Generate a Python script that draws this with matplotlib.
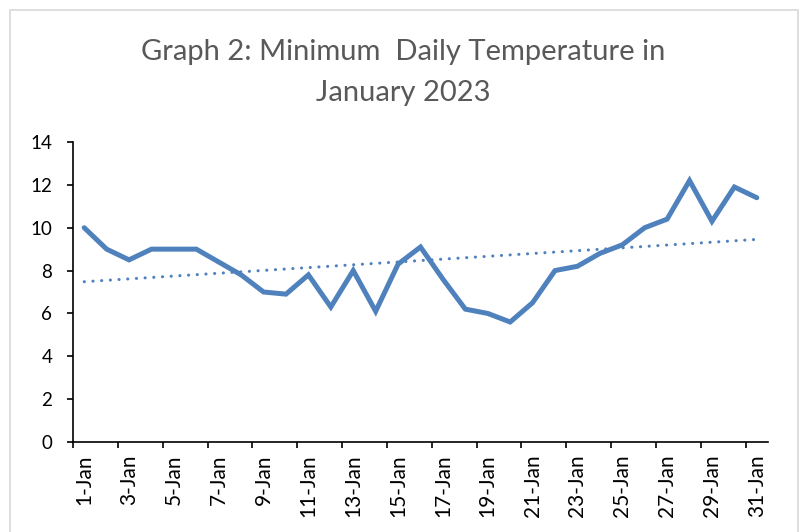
import numpy as np
import matplotlib
matplotlib.use('Agg')
from matplotlib import pyplot as plt
from matplotlib.patches import Rectangle

# Minimum daily temperature, January 2023
days = list(range(1, 32))
labels = [f'{d}-Jan' for d in days]
temps = [10.0, 9.0, 8.5, 9.0, 9.0, 9.0, 8.4, 7.8, 7.0, 6.9,
         7.8, 6.3, 8.0, 6.1, 8.3, 9.1, 7.6, 6.2, 6.0, 5.6,
         6.5, 8.0, 8.2, 8.8, 9.2, 10.0, 10.4, 12.2, 10.3, 11.9, 11.4]

blue = '#4F81BD'
plt.rcParams['font.family'] = ['Lato', 'DejaVu Sans']

fig = plt.figure(figsize=(8.04, 5.32), dpi=100)
ax = fig.add_axes([73 / 804, 90 / 532, 695 / 804, 300 / 532])

x = np.arange(len(temps))
ax.plot(x, temps, color=blue, lw=3.6, solid_joinstyle='miter', solid_capstyle='round')

# linear trendline like Excel's
k, b = np.polyfit(x, temps, 1)
ax.plot(x, k * x + b, color=blue, lw=2.2, linestyle=(0, (0.05, 2.8)), dash_capstyle='round')

ax.set_xlim(-0.5, len(temps) - 0.5)
ax.set_ylim(0, 14)
ax.set_yticks(np.arange(0, 15, 2))
ax.set_xticks(x[::2])
ax.set_xticklabels(labels[::2], rotation=90)
ax.set_xticks(np.arange(-0.5, len(temps) - 0.5, 2), minor=True)
ax.tick_params(axis='x', which='major', length=0, pad=9, labelsize=15)
ax.tick_params(axis='x', which='minor', length=4, width=1.2, direction='out')
ax.tick_params(axis='y', length=4, width=1.2, direction='out', labelsize=13.5, pad=11)

for s in ['top', 'right']:
    ax.spines[s].set_visible(False)
for s in ['left', 'bottom']:
    ax.spines[s].set_linewidth(1.2)

fig.text(0.502, 1 - 52 / 532, 'Graph 2: Minimum  Daily Temperature in',
         ha='center', va='center', fontsize=21, color='#595959')
fig.text(0.502, 1 - 93 / 532, 'January 2023',
         ha='center', va='center', fontsize=21, color='#595959')

fig.patches.append(Rectangle((10 / 804, -0.05), 788 / 804, 1.05 - 10 / 532,
                             transform=fig.transFigure, fill=False,
                             edgecolor='#D9D9D9', lw=1.2))

fig.savefig('out.png', dpi=100)
